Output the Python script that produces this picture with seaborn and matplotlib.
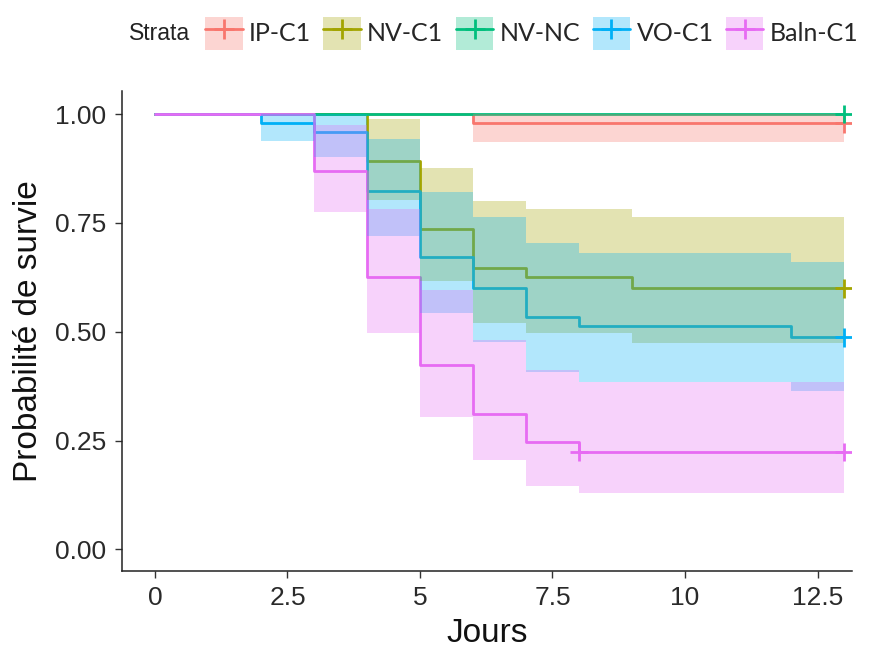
import numpy as np
import pandas as pd
import matplotlib
matplotlib.use('Agg')
import matplotlib.pyplot as plt
from matplotlib.patches import Patch
from matplotlib.lines import Line2D
import seaborn as sns

sns.set_style('ticks')
plt.rcParams['font.family'] = ['Liberation Sans', 'DejaVu Sans']

# Kaplan-Meier curves (step values, post)
strata = ['IP-C1', 'NV-C1', 'NV-NC', 'VO-C1', 'Baln-C1']
colors = ['#F8766D', '#A3A500', '#00BF7D', '#00B0F6', '#E76BF3']

ip_time = [0, 6, 13]
ip_surv = [1.0, 0.979, 0.979]
ip_lower = [1.0, 0.935, 0.935]
ip_upper = [1.0, 1.0, 1.0]

nvc1_time = [0, 4, 5, 6, 7, 9, 13]
nvc1_surv = [1.0, 0.893, 0.737, 0.646, 0.626, 0.600, 0.600]
nvc1_lower = [1.0, 0.802, 0.617, 0.521, 0.496, 0.473, 0.473]
nvc1_upper = [1.0, 0.988, 0.875, 0.801, 0.781, 0.764, 0.764]

nvnc_time = [0, 13]
nvnc_surv = [1.0, 1.0]
nvnc_lower = [1.0, 1.0]
nvnc_upper = [1.0, 1.0]

vo_time = [0, 2, 3, 4, 5, 6, 7, 8, 12, 13]
vo_surv = [1.0, 0.980, 0.959, 0.823, 0.672, 0.600, 0.534, 0.513, 0.487, 0.487]
vo_lower = [1.0, 0.938, 0.902, 0.720, 0.544, 0.477, 0.408, 0.385, 0.364, 0.364]
vo_upper = [1.0, 1.0, 1.0, 0.942, 0.822, 0.763, 0.703, 0.681, 0.661, 0.661]

baln_time = [0, 3, 4, 5, 6, 7, 8, 13]
baln_surv = [1.0, 0.870, 0.626, 0.423, 0.312, 0.246, 0.224, 0.224]
baln_lower = [1.0, 0.774, 0.498, 0.303, 0.205, 0.146, 0.130, 0.130]
baln_upper = [1.0, 0.975, 0.781, 0.596, 0.482, 0.412, 0.385, 0.385]

# censored observations (+ marks)
cens_strata = ['IP-C1', 'NV-C1', 'NV-NC', 'VO-C1', 'Baln-C1', 'Baln-C1']
cens_time = [13, 13, 13, 13, 8, 13]
cens_surv = [0.979, 0.600, 1.0, 0.487, 0.224, 0.224]

x_ticks = [0, 2.5, 5, 7.5, 10, 12.5]
x_ticklabels = ['0', '2.5', '5', '7.5', '10', '12.5']
y_ticks = [0, 0.25, 0.5, 0.75, 1.0]
y_ticklabels = ['0.00', '0.25', '0.50', '0.75', '1.00']

curves = {
    'IP-C1': (ip_time, ip_surv, ip_lower, ip_upper),
    'NV-C1': (nvc1_time, nvc1_surv, nvc1_lower, nvc1_upper),
    'NV-NC': (nvnc_time, nvnc_surv, nvnc_lower, nvnc_upper),
    'VO-C1': (vo_time, vo_surv, vo_lower, vo_upper),
    'Baln-C1': (baln_time, baln_surv, baln_lower, baln_upper),
}
palette = dict(zip(strata, colors))

# long table for seaborn
rows = []
for name in strata:
    t, s, lo, up = curves[name]
    for i in range(len(t)):
        rows.append({'strata': name, 'time': t[i], 'surv': s[i]})
df_lines = pd.DataFrame(rows)
df_cens = pd.DataFrame({'strata': cens_strata, 'time': cens_time, 'surv': cens_surv})

fig = plt.figure(figsize=(8.69, 6.5), dpi=100)
ax = fig.add_axes([0.140, 0.122, 0.8404, 0.738])

sns.lineplot(data=df_lines, x='time', y='surv', hue='strata', hue_order=strata,
             palette=palette, drawstyle='steps-post', estimator=None,
             linewidth=2.0, legend=False, ax=ax, zorder=2)

# confidence bands drawn over the lines, like survminer does
for name in strata:
    t, s, lo, up = curves[name]
    ax.fill_between(t, lo, up, step='post', color=palette[name], alpha=0.3,
                    linewidth=0, zorder=3)

sns.scatterplot(data=df_cens, x='time', y='surv', hue='strata', hue_order=strata,
                palette=palette, marker='+', s=180, linewidth=2.0,
                legend=False, ax=ax, zorder=4)

ax.set_xlim(-0.628, 13.15)
ax.set_ylim(-0.049, 1.053)
ax.set_xticks(x_ticks)
ax.set_xticklabels(x_ticklabels)
ax.set_yticks(y_ticks)
ax.set_yticklabels(y_ticklabels)
ax.tick_params(axis='both', labelsize=19, length=5, width=1.0, color='#333333',
               labelcolor='#2a2a2a', pad=6)
for side in ['left', 'bottom']:
    ax.spines[side].set_linewidth(1.1)
    ax.spines[side].set_color('#222222')
sns.despine(ax=ax)
ax.set_xlabel('Jours', fontsize=24, labelpad=6, color='#111111')
ax.set_ylabel('Probabilité de survie', fontsize=24, labelpad=8, color='#111111')

# legend on top
handles = []
for name in strata:
    handles.append((Patch(facecolor=palette[name], alpha=0.3, linewidth=0),
                    Line2D([], [], color=palette[name], lw=2.0, marker='+',
                           markersize=15, markeredgewidth=2.0)))
fig.text(0.148, 0.949, 'Strata', fontsize=16.5, va='center', ha='left', color='#222222')
fig.legend(handles, strata, loc='center left', bbox_to_anchor=(0.236, 0.949),
           ncol=5, frameon=False, borderpad=0, borderaxespad=0,
           handlelength=1.5, handleheight=1.65, handletextpad=0.25,
           columnspacing=0.5, prop={'family': ['Lato', 'DejaVu Sans'], 'size': 18})

fig.savefig('out.png', dpi=100)
